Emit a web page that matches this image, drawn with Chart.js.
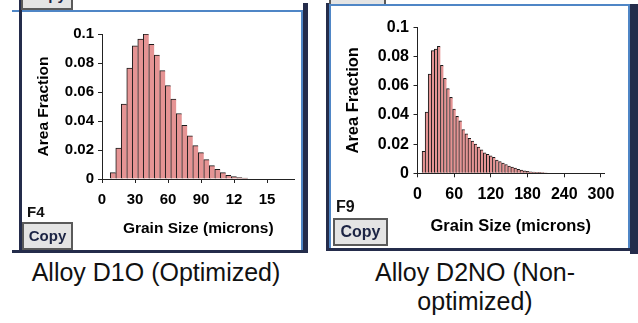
<!DOCTYPE html>
<html>
<head>
<meta charset="utf-8">
<script src="https://cdn.jsdelivr.net/npm/chart.js@4.4.1/dist/chart.umd.min.js"></script>
<style>
  body { margin: 0; width: 638px; height: 323px; background: #fff; position: relative; overflow: hidden;
         font-family: 'Liberation Sans', Arial, sans-serif; }
  .abs { position: absolute; }
  .navy { background: #242c4b; }
  .blue { background: #4f86c6; }
  .btn { position: absolute; box-sizing: border-box; background: #e4e4e4; border: 2px solid #5a5a5a;
         color: #1c2444; font-weight: bold; text-align: center; overflow: hidden; }
  .tag { position: absolute; font-weight: bold; color: #111; }
  .caption { position: absolute; text-align: center; font-size: 25px; line-height: 29px; color: #111; }
  canvas { position: absolute; }
</style>
</head>
<body>

<!-- panel F4 -->
<div class="abs blue" style="left:12px;top:10px;width:291px;height:2px"></div>
<div class="abs navy" style="left:19px;top:0;width:3px;height:252px"></div>
<div class="abs blue" style="left:301px;top:10px;width:2px;height:241px"></div>
<div class="abs navy" style="left:303px;top:3px;width:5px;height:250px"></div>
<div class="abs navy" style="left:12px;top:250px;width:296px;height:3px"></div>
<div class="btn" style="left:21px;top:-18px;width:52px;height:28px;font-size:15px;line-height:22px">Copy</div>
<canvas id="chartD1O" width="278" height="238" style="left:22px;top:12px"></canvas>
<div class="tag" style="left:27px;top:203px;font-size:15px">F4</div>
<div class="btn" style="left:22px;top:222px;width:51px;height:28px;font-size:15px;line-height:24px">Copy</div>

<!-- panel F9 -->
<div class="abs navy" style="left:326px;top:3px;width:3px;height:247px"></div>
<div class="abs blue" style="left:329px;top:3px;width:2px;height:246px"></div>
<div class="btn" style="left:329px;top:-22px;width:57px;height:28px;font-size:16px;line-height:24px">Copy</div>
<div class="abs blue" style="left:329px;top:4px;width:301px;height:2px"></div>
<div class="abs blue" style="left:628px;top:4px;width:2px;height:246px"></div>
<div class="abs navy" style="left:630px;top:4px;width:8px;height:250px"></div>
<div class="abs navy" style="left:326px;top:248px;width:312px;height:3px"></div>
<canvas id="chartD2NO" width="297" height="242" style="left:331px;top:6px"></canvas>
<div class="tag" style="left:336px;top:198px;font-size:16px">F9</div>
<div class="btn" style="left:333px;top:218px;width:55px;height:28px;font-size:16px;line-height:24px">Copy</div>

<div class="caption" style="left:0;top:258px;width:312px">Alloy D1O (Optimized)</div>
<div class="caption" style="left:330px;top:258px;width:290px">Alloy D2NO (Non-<br>optimized)</div>

<script>
// area fraction per 5 micron bin, bins given by centre
const binsD1O = [10, 15, 20, 25, 30, 35, 40, 45, 50, 55, 60, 65, 70, 75, 80, 85, 90, 95, 100, 105, 110, 115, 120, 125, 130];
const fracD1O = [0.0044, 0.0214, 0.0516, 0.0765, 0.0919, 0.0965, 0.1, 0.0929, 0.0855, 0.0747, 0.0645, 0.0551, 0.0452,
                 0.0371, 0.0298, 0.023, 0.0182, 0.0134, 0.0092, 0.0067, 0.0044, 0.0025, 0.0016, 0.001, 0.0007];
const xTicksD1O = [0, 30, 60, 90, 120, 150];
const xLabelsD1O = ['0', '30', '60', '90', '12', '15'];

const binsD2NO = [10, 15, 20, 25, 30, 35, 40, 45, 50, 55, 60, 65, 70, 75, 80, 85, 90, 95, 100, 105, 110, 115, 120,
                  125, 130, 135, 140, 145, 150, 155, 160, 165, 170, 175, 180, 185, 190, 195, 200, 205, 210];
const fracD2NO = [0.015, 0.042, 0.068, 0.084, 0.085, 0.087, 0.074, 0.065, 0.058, 0.052, 0.044, 0.039, 0.036, 0.030,
                  0.027, 0.024, 0.022, 0.020, 0.018, 0.016, 0.014, 0.013, 0.012, 0.011, 0.009, 0.008, 0.007, 0.006,
                  0.005, 0.0042, 0.0035, 0.0028, 0.0022, 0.0017, 0.0013, 0.0010, 0.0008, 0.0007, 0.0006, 0.0005, 0.0004];
const xTicksD2NO = [0, 60, 120, 180, 240, 300];
const xLabelsD2NO = ['0', '60', '120', '180', '240', '300'];

const yTicks = [0, 0.02, 0.04, 0.06, 0.08, 0.1];
const yLabels = ['0', '0.02', '0.04', '0.06', '0.08', '0.1'];

const FONT = "'Liberation Sans', Arial, sans-serif";

function histogram(id, bins, fracs, xTicks, xLabels, g) {
  const last = fracs.length - 1;
  const axisGrid = { display: true, drawOnChartArea: false, drawTicks: true, tickLength: 4, color: '#222', offset: false };
  const axisBorder = { display: true, color: '#222', width: 1 };

  return new Chart(document.getElementById(id), {
    type: 'bar',
    data: {
      datasets: [{
        data: bins.map((b, i) => ({ x: b, y: fracs[i] })),
        backgroundColor: 'rgb(229,148,148)',
        borderColor: '#1a1a1a',
        borderWidth: c => ({ top: 1, left: 1, bottom: 0, right: c.dataIndex === last ? 1 : 0 }),
        barPercentage: 1,
        categoryPercentage: 1
      }]
    },
    options: {
      responsive: false,
      animation: false,
      devicePixelRatio: 1,
      layout: { padding: { top: g.top, right: g.right, left: 0, bottom: 0 } },
      plugins: { legend: { display: false }, tooltip: { enabled: false } },
      scales: {
        x: {
          type: 'linear',
          offset: false,
          min: 0,
          max: g.xMax,
          grid: axisGrid,
          border: axisBorder,
          afterBuildTicks: axis => { axis.ticks = xTicks.map(v => ({ value: v })); },
          afterFit: axis => { axis.height = g.xHeight; },
          ticks: {
            padding: g.xTickPad,
            color: '#000',
            maxRotation: 0,
            autoSkip: false,
            font: { family: FONT, size: g.tickSize, weight: 'bold' },
            callback: v => xLabels[xTicks.indexOf(v)]
          },
          title: {
            display: true,
            text: 'Grain Size (microns)',
            color: '#000',
            padding: { top: 0, bottom: g.xTitlePad },
            font: { family: FONT, size: g.titleSize, weight: 'bold' }
          }
        },
        y: {
          min: 0,
          max: 0.1,
          grid: axisGrid,
          border: axisBorder,
          afterBuildTicks: axis => { axis.ticks = yTicks.map(v => ({ value: v })); },
          afterFit: axis => { axis.width = g.yWidth; },
          ticks: {
            padding: g.yTickPad,
            color: '#000',
            autoSkip: false,
            font: { family: FONT, size: g.tickSize, weight: 'bold' },
            callback: v => yLabels[yTicks.indexOf(v)]
          },
          title: {
            display: true,
            text: 'Area Fraction',
            color: '#000',
            padding: { top: g.yTitlePad, bottom: 0 },
            font: { family: FONT, size: g.titleSize, weight: 'bold' }
          }
        }
      }
    }
  });
}

histogram('chartD1O', binsD1O, fracD1O, xTicksD1O, xLabelsD1O, {
  xMax: 175, top: 22, right: 5.5, yWidth: 80, xHeight: 71,
  tickSize: 15, titleSize: 15.5, xTickPad: 8, yTickPad: 4, xTitlePad: 12, yTitlePad: 12
});

histogram('chartD2NO', binsD2NO, fracD2NO, xTicksD2NO, xLabelsD2NO, {
  xMax: 305, top: 21.3, right: 24, yWidth: 86.5, xHeight: 74.7,
  tickSize: 16, titleSize: 16.5, xTickPad: 8, yTickPad: 4.5, xTitlePad: 12, yTitlePad: 13
});
</script>
</body>
</html>
